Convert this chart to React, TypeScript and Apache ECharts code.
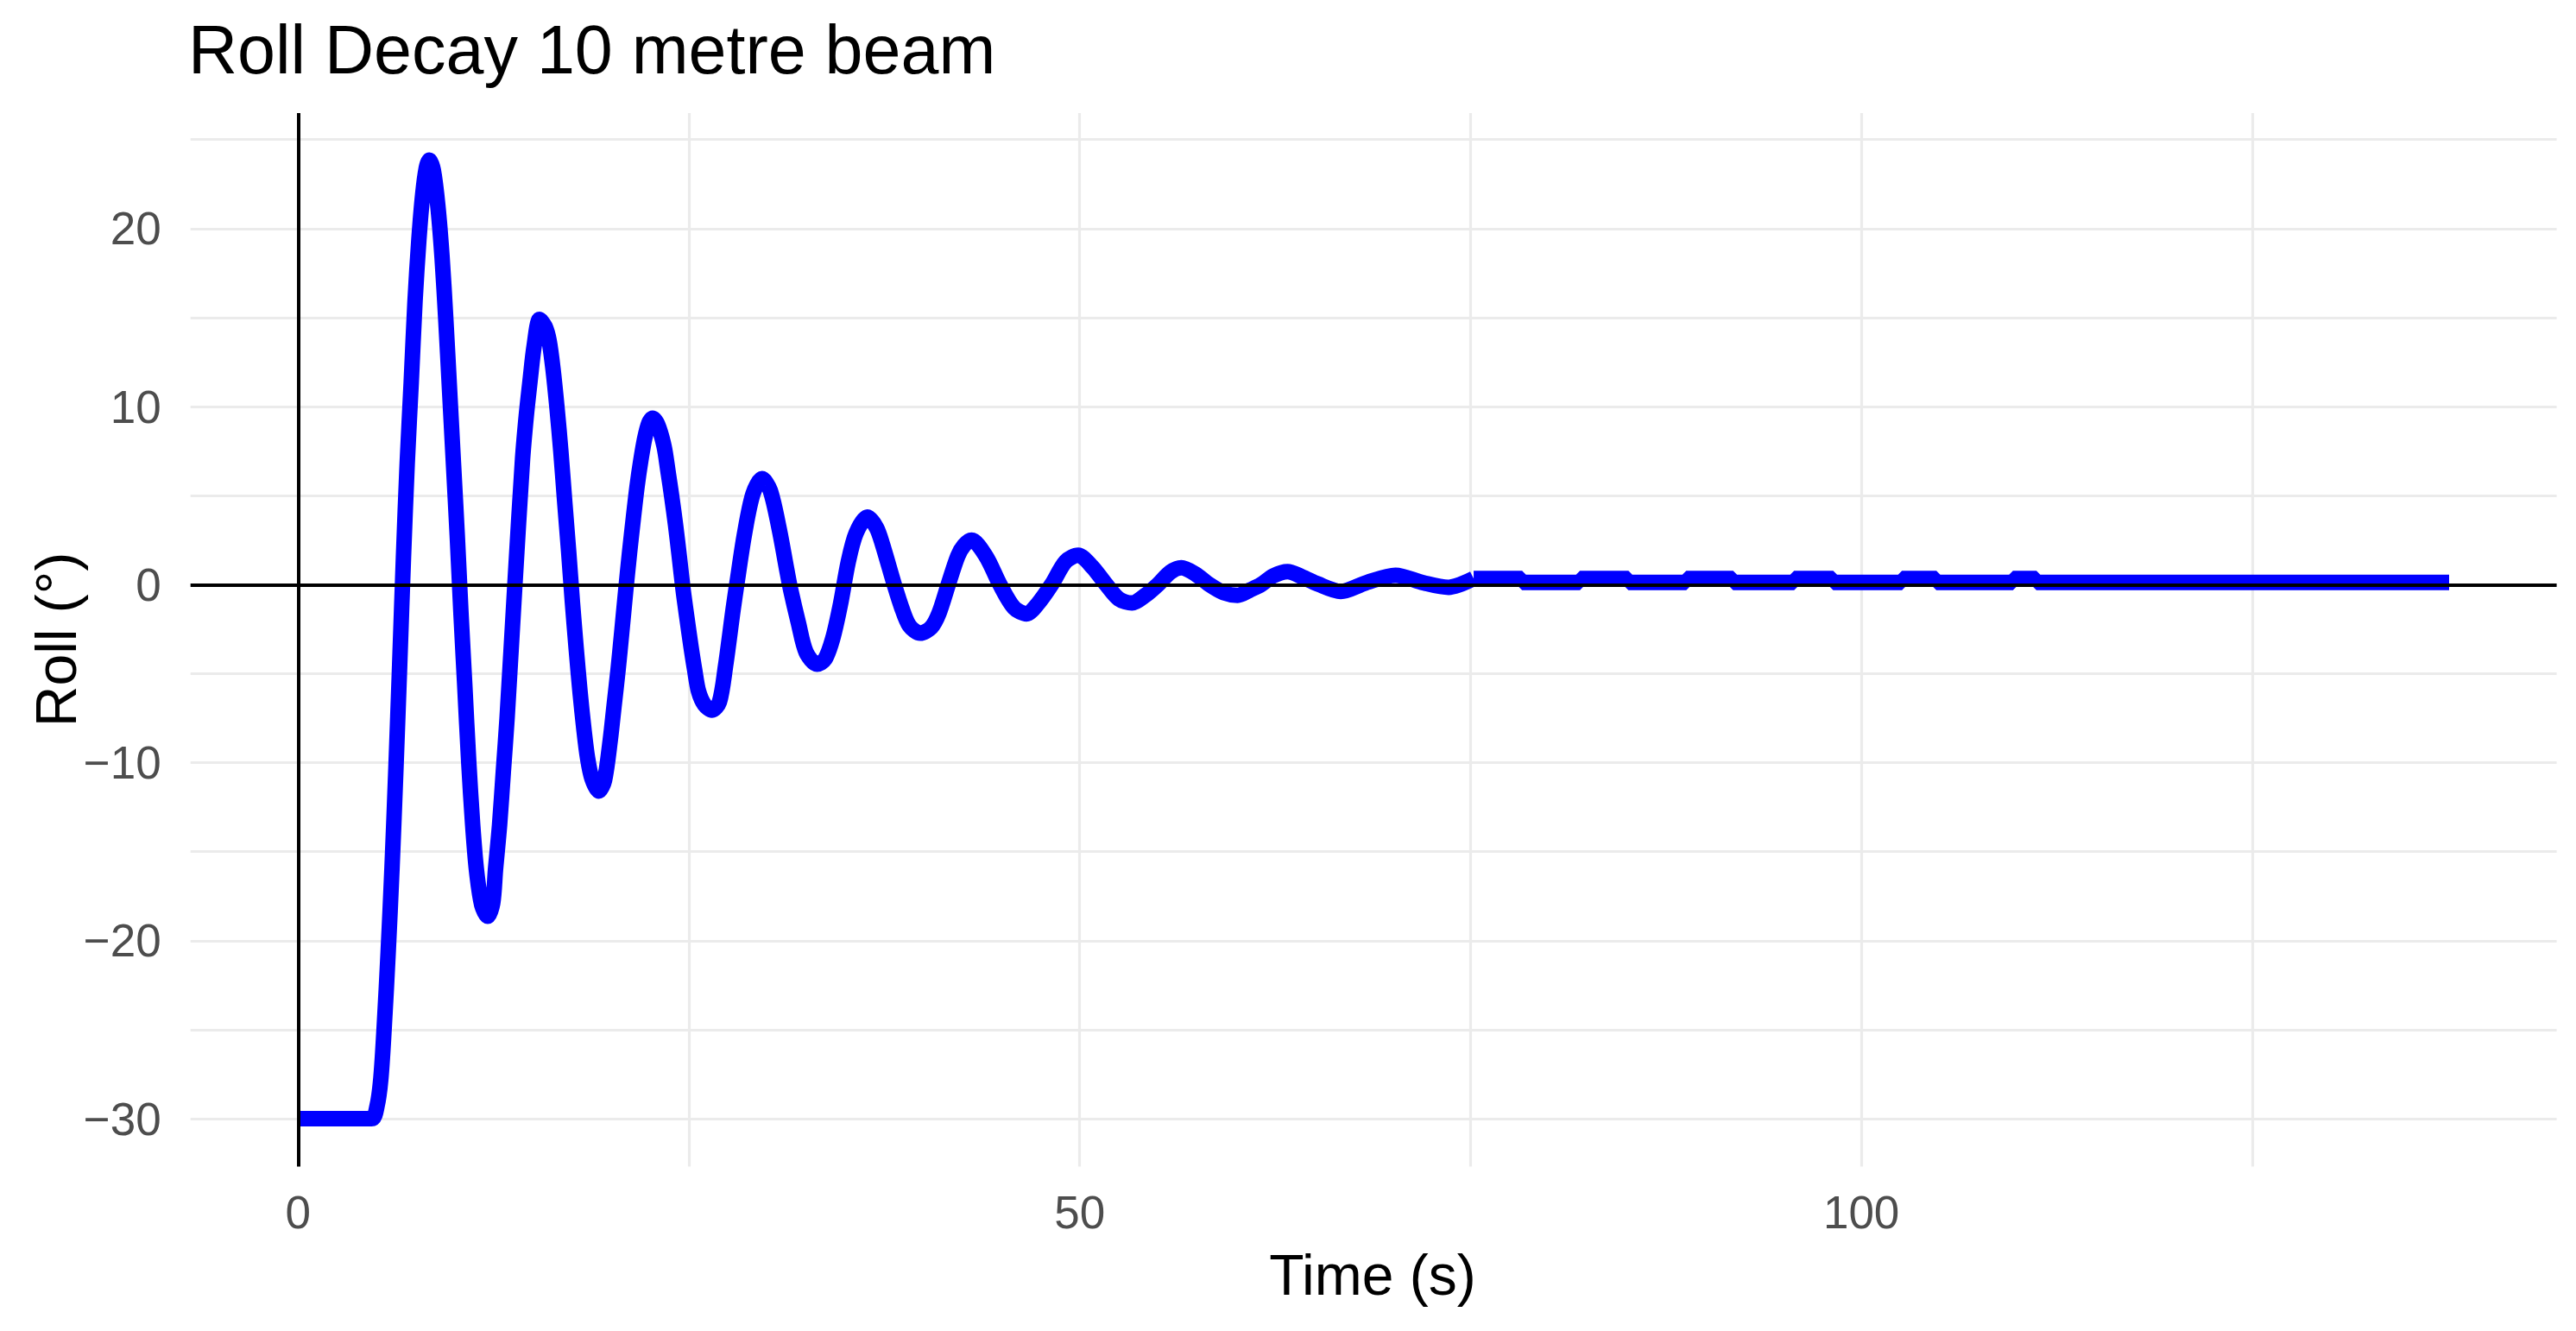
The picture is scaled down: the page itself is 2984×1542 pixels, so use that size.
import React, { useEffect, useRef } from "react";
import * as echarts from "echarts";

const TITLE = "Roll Decay 10 metre beam";
const X_TITLE = "Time (s)";
const Y_TITLE = "Roll (°)";

// [time (s), roll (deg)]
const heelPhase = [[0, -30], [4.7, -30]];
const swingA = [
  [5.05, -29.3], [5.3, -27.7], [5.52, -24.7], [5.76, -20.7], [6.01, -15.9], [6.26, -10.3],
  [6.5, -4.5], [6.74, 1.5], [6.98, 6.8], [7.24, 11.4], [7.48, 15.9], [7.73, 19.4],
  [7.97, 21.9], [8.2, 23.4], [8.4, 23.85], [8.65, 23.3], [8.94, 21.3], [9.21, 18.4],
  [9.45, 14.9], [9.69, 10.95], [9.94, 6.8], [10.18, 2.8], [10.42, -1.6], [10.66, -5.6],
  [10.92, -10.0], [11.17, -13.5], [11.42, -16.1], [11.75, -18.0], [12.13, -18.63],
];
const swingB = [
  [12.45, -17.9], [12.63, -16.0], [12.89, -13.5], [13.13, -10.5], [13.37, -7.5], [13.87, 0],
  [14.36, 7.05], [14.6, 9.5], [14.84, 11.45], [15.1, 13.4], [15.45, 14.9], [15.8, 14.5],
  [16.06, 13.7], [16.31, 12.1], [16.57, 9.87], [16.81, 7.48], [17.06, 4.62], [17.31, 1.85],
  [17.55, -1.0], [17.79, -3.58], [18.04, -6.05], [18.28, -8.08], [18.52, -9.75], [18.8, -10.9],
  [19.24, -11.6],
];
const swingC = [
  [19.6, -11.0], [19.97, -8.74], [20.21, -6.84], [20.47, -4.79], [20.71, -2.64], [20.95, -0.42],
  [21.2, 1.76], [21.45, 3.75], [21.69, 5.55], [21.93, 7.0], [22.18, 8.24], [22.45, 9.1],
  [22.68, 9.35], [23.0, 9.0], [23.41, 7.78], [23.66, 6.39], [23.9, 4.96], [24.15, 3.33],
  [24.39, 1.56], [24.63, -0.29], [24.88, -1.9], [25.13, -3.45], [25.37, -4.79], [25.62, -6.0],
  [26.0, -6.75], [26.48, -7.05],
];
const swingD = [
  [26.95, -6.6], [27.34, -4.6], [27.83, -1.39], [28.08, 0.12], [28.56, 2.86], [29.1, 5.1],
  [29.68, 5.95], [30.2, 5.3], [30.77, 3.16], [31.26, 0.84], [31.51, -0.29], [32.0, -2.13],
  [32.5, -3.8], [33.2, -4.47],
];
const swingE = [
  [33.7, -4.2], [34.2, -3.03], [34.7, -1.09], [35.19, 1.26], [35.7, 2.9], [36.42, 3.8],
  [37.0, 3.2], [37.38, 2.27], [38.14, 0], [38.6, -1.26], [39.1, -2.3], [39.8, -2.73],
];
const swingF = [
  [40.5, -2.4], [41.0, -1.6], [41.59, 0], [42.2, 1.6], [42.6, 2.2], [43.08, 2.5],
  [44.0, 1.6], [44.9, 0], [45.8, -1.3], [46.6, -1.64],
];
const swingG = [
  [47.3, -1.1], [48.2, 0], [49.1, 1.3], [49.9, 1.65], [50.8, 1.0], [51.7, 0],
  [52.5, -0.8], [53.35, -1.03], [54.2, -0.6], [55.0, 0], [55.8, 0.7], [56.5, 0.95],
  [57.4, 0.6], [58.3, 0], [59.2, -0.45], [60.1, -0.6], [60.9, -0.3], [61.6, 0],
  [62.4, 0.5], [63.3, 0.73], [64.2, 0.45], [65.2, 0.05], [66.7, -0.38], [68.3, 0.1],
  [70.2, 0.53], [72.0, 0.1], [73.6, -0.15], [75.2, 0.34],
];
const tailSteps = [
  [75.2, 0.34], [78.3, 0.13], [82.0, 0.34], [85.1, 0.13], [88.8, 0.34], [91.8, 0.13],
  [95.7, 0.34], [98.2, 0.13], [102.6, 0.34], [104.8, 0.13], [109.7, 0.34], [111.2, 0.13],
  [137.6, 0.13],
];

const xLimits = [-6.88, 144.48];
const yLimits = [-32.69, 26.49];
const xGridValues = [0, 25, 50, 75, 100, 125];
const yGridValues = [-30, -25, -20, -15, -10, -5, 0, 5, 10, 15, 20, 25];
const xTickValues = [0, 50, 100];
const yTickValues = [-30, -20, -10, 0, 10, 20];
const zeroX = [0];
const zeroY = [0];

const FONT = "'Liberation Sans', Arial, Helvetica, sans-serif";

export default function App() {
  const ref = useRef<HTMLDivElement>(null);
  useEffect(() => {
    if (!ref.current) return;
    const chart = echarts.init(ref.current, null, { renderer: "svg" });
    const curve = [...heelPhase, ...swingA, ...swingB, ...swingC, ...swingD, ...swingE, ...swingF, ...swingG];
    const minus = (v: number) => String(v).replace("-", "\u2212");
    const markBase = {
      silent: true,
      symbol: ["none", "none"],
      label: { show: false },
      emphasis: { disabled: true },
      animation: false,
    };
    const option = {
      animation: false,
      grid: { left: 220.7, right: 22.4, top: 131, bottom: 190.5 },
      xAxis: {
        type: "value",
        min: xLimits[0],
        max: xLimits[1],
        axisLine: { show: false },
        axisTick: { show: false },
        splitLine: { show: false },
        axisLabel: {
          customValues: xTickValues,
          fontSize: 53,
          fontFamily: FONT,
          color: "#4D4D4D",
          margin: 26,
          formatter: (v: number) => minus(v),
        },
      },
      yAxis: {
        type: "value",
        min: yLimits[0],
        max: yLimits[1],
        axisLine: { show: false },
        axisTick: { show: false },
        splitLine: { show: false },
        axisLabel: {
          customValues: yTickValues,
          fontSize: 53,
          fontFamily: FONT,
          color: "#4D4D4D",
          margin: 34,
          formatter: (v: number) => minus(v),
        },
      },
      graphic: [
        {
          type: "text",
          x: 218,
          y: 57.6,
          style: { text: TITLE, fontSize: 79, fontFamily: FONT, fill: "#000000", align: "left", verticalAlign: "middle" },
        },
        {
          type: "text",
          x: 1590,
          y: 1477,
          style: { text: X_TITLE, fontSize: 66, fontFamily: FONT, fill: "#000000", align: "center", verticalAlign: "middle" },
        },
        {
          type: "text",
          x: 65,
          y: 741,
          rotation: Math.PI / 2,
          style: { text: Y_TITLE, fontSize: 66, fontFamily: FONT, fill: "#000000", align: "center", verticalAlign: "middle" },
        },
      ],
      series: [
        {
          type: "line",
          data: [],
          z: 1,
          silent: true,
          markLine: {
            ...markBase,
            z: 1,
            lineStyle: { color: "#EBEBEB", width: 3.2, type: "solid" },
            data: [
              ...xGridValues.map((v) => ({ xAxis: v })),
              ...yGridValues.map((v) => ({ yAxis: v })),
            ],
          },
        },
        {
          type: "line",
          data: curve,
          smooth: 0.3,
          showSymbol: false,
          symbol: "none",
          silent: true,
          z: 3,
          lineStyle: { color: "#0000FF", width: 18, join: "round" },
        },
        {
          type: "line",
          data: tailSteps,
          step: "end",
          showSymbol: false,
          symbol: "none",
          silent: true,
          z: 3,
          lineStyle: { color: "#0000FF", width: 18 },
        },
        {
          type: "line",
          data: [],
          z: 6,
          silent: true,
          markLine: {
            ...markBase,
            z: 6,
            lineStyle: { color: "#000000", width: 4, type: "solid" },
            data: [
              ...zeroX.map((v) => ({ xAxis: v })),
              ...zeroY.map((v) => ({ yAxis: v })),
            ],
          },
        },
      ],
    };
    chart.setOption(option as any);
    return () => chart.dispose();
  }, []);
  return (
    <div
      ref={ref}
      style={{ position: "absolute", left: 0, top: 0, width: 2984, height: 1542, background: "#FFFFFF" }}
    />
  );
}
